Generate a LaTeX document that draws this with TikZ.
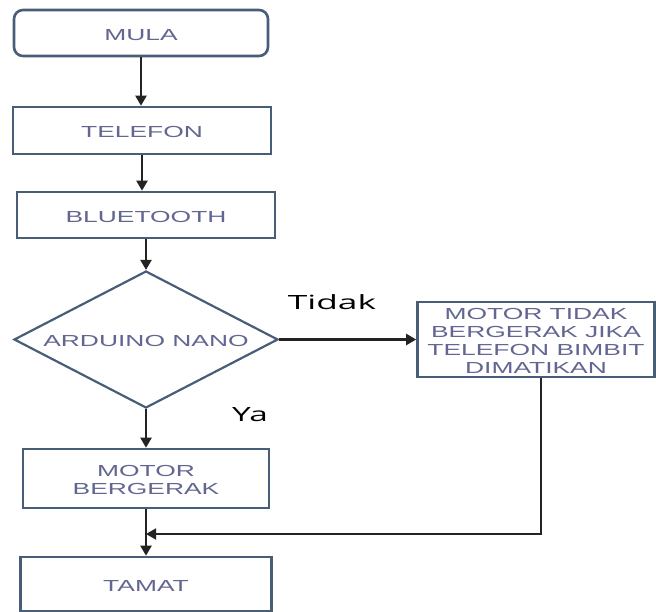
\documentclass[tikz,border=0pt]{standalone}
\usepackage{fontspec}
\setmainfont{Liberation Sans}
\newfontfamily\labelfont{Open Sans}
\usepackage{graphicx}
\usetikzlibrary{shapes.geometric,arrows.meta}

\definecolor{boxline}{RGB}{72,94,120}
\definecolor{boxtext}{RGB}{98,102,145}
\definecolor{flowline}{RGB}{35,35,35}

\newcommand{\wide}[1]{\raisebox{-3.5pt}[\height][\depth]{\scalebox{1.65}[1]{\fontsize{16}{17.7}\selectfont\begin{tabular}{@{}c@{}}#1\end{tabular}}}}

\tikzset{
  stepbox/.style={draw=boxline, line width=2.6pt, fill=white, inner sep=0pt, text=boxtext},
  startbox/.style={stepbox, rounded corners=9pt},
  decision/.style={diamond, draw=boxline, line width=2.2pt, inner sep=0pt},
  flow/.style={draw=flowline, line width=2.2pt, -{Triangle[length=10pt,width=11pt]}},
  answer/.style={inner sep=0pt, font=\labelfont\fontsize{19.6}{24}\selectfont},
}

\begin{document}
\begin{tikzpicture}[x=1pt,y=-1pt]

\useasboundingbox (0,0) rectangle (656,612);

\node[startbox, minimum width=254pt, minimum height=46pt] (mula) at (141,33) {\wide{MULA}};
\node[stepbox, minimum width=258pt, minimum height=47pt] (telefon) at (142,130.5) {\wide{TELEFON}};
\node[stepbox, minimum width=258pt, minimum height=46pt] (bluetooth) at (146,215) {\wide{BLUETOOTH}};
\node[decision, minimum width=264pt, minimum height=137pt] (arduino) at (146,339.5) {};
\node[text=boxtext, inner sep=0pt] (arduinotext) at (arduino) {\wide{ARDUINO NANO}};
\node[stepbox, minimum width=237pt, minimum height=75pt] (motortidak) at (536,339.5)
  {\wide{MOTOR TIDAK\\BERGERAK JIKA\\TELEFON BIMBIT\\DIMATIKAN}};
\node[stepbox, minimum width=246pt, minimum height=59pt] (motorgerak) at (146,478.5) {\wide{MOTOR\\BERGERAK}};
\node[stepbox, minimum width=251pt, minimum height=54pt] (tamat) at (146,584) {\wide{TAMAT}};

\node[answer] (tidak) at (332,302) {\scalebox{1.8}[1]{Tidak}};
\node[answer] (ya) at (250,415) {\scalebox{1.7}[1]{Ya}};

\coordinate (merge) at (146,534);

\draw[flow] (mula.south) -- (mula.south |- telefon.north);
\draw[flow] (telefon.south) -- (telefon.south |- bluetooth.north);
\draw[flow] (bluetooth.south) -- (arduino.north);
\draw[flow] (arduino.east) -- (motortidak.west);
\draw[flow] (arduino.south) -- (motorgerak.north);
\draw[flow] (motorgerak.south) -- (tamat.north);
\draw[flow, line width=1.8pt] ([xshift=5pt]motortidak.south) |- (merge);

\end{tikzpicture}
\end{document}
